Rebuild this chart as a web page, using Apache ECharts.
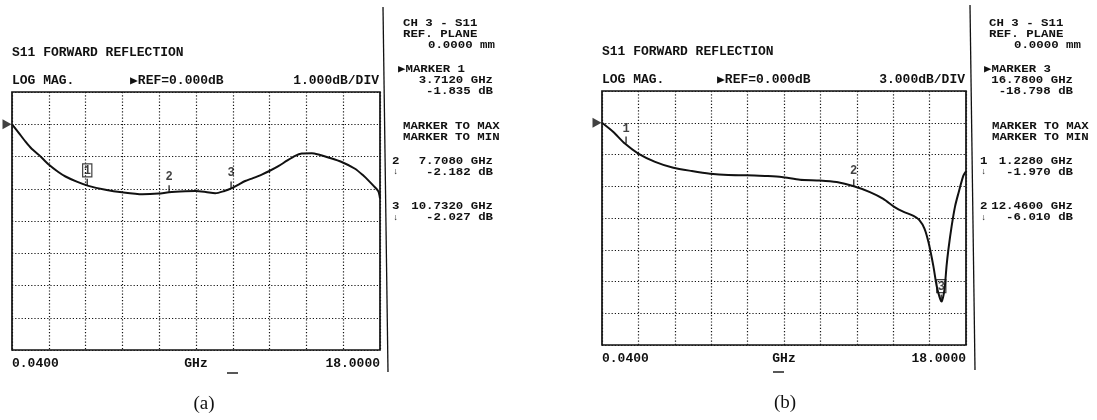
<!DOCTYPE html>
<html><head><meta charset="utf-8">
<script src="https://cdn.jsdelivr.net/npm/echarts@6/dist/echarts.min.js"></script>
<style>html,body{margin:0;padding:0;background:#fff}#c{width:1097px;height:420px}</style>
</head><body><div id="c"></div>
<script>
// ---- data ----
const startFreq = 0.04, stopFreq = 18;           // GHz
const xTickLabels = ['0.0400', '18.0000'];
const refLevel = 0;                               // dB
const dbPerDivA = 1, dbPerDivB = 3;

const freqA = [0.04, 0.35, 0.70, 1.0, 1.35, 1.83, 2.3, 2.65, 3.2, 3.77, 4.6, 5.41, 6.4, 7.19, 7.7, 8.5, 9.0, 9.5, 9.96, 10.4, 10.77, 11.1, 11.42, 11.8, 12.23, 12.6, 13.04, 13.46, 13.86, 14.18, 14.67, 15.0, 15.48, 16.13, 16.78, 17.2, 17.43, 17.7, 17.92, 18.0];
const dbA   = [0, -0.25, -0.54, -0.76, -0.95, -1.25, -1.48, -1.62, -1.78, -1.91, -2.03, -2.11, -2.17, -2.15, -2.11, -2.08, -2.07, -2.1, -2.14, -2.07, -1.98, -1.87, -1.76, -1.67, -1.56, -1.45, -1.30, -1.13, -0.98, -0.91, -0.90, -0.94, -1.03, -1.17, -1.38, -1.6, -1.74, -1.92, -2.08, -2.3];

const freqB = [0.04, 0.60, 1.17, 1.83, 2.66, 3.56, 4.47, 5.37, 6.27, 7.18, 8.08, 8.9, 9.81, 10.8, 11.62, 12.47, 13.26, 13.92, 14.5, 14.9, 15.41, 15.7, 15.95, 16.15, 16.39, 16.55, 16.7, 16.8, 16.9, 16.96, 17.04, 17.13, 17.29, 17.46, 17.62, 17.87, 18.0];
const dbB   = [0, -0.87, -1.97, -2.91, -3.69, -4.25, -4.56, -4.81, -4.94, -4.96, -5.03, -5.12, -5.38, -5.45, -5.6, -6.0, -6.55, -7.19, -8.0, -8.4, -8.8, -9.2, -10.0, -11.3, -13.55, -15.4, -16.5, -16.9, -16.2, -15.4, -13.55, -12.0, -9.8, -7.9, -6.7, -5.0, -4.6];

const markerFreqA = [3.712, 7.708, 10.732];
const markerDbA   = [-1.91, -2.11, -1.99];
const markerNamesA = ['1', '2', '3'];
const activeMarkerA = 0;
const markerFreqB = [1.228, 12.46, 16.78];
const markerDbB   = [-1.97, -6.0, -16.9];
const markerNamesB = ['1', '2', '3'];
const activeMarkerB = 2;

// marker read-outs printed on the instrument
const readFreqA = [3.712, 7.708, 10.732];
const readDbA   = [-1.835, -2.182, -2.027];
const readFreqB = [1.228, 12.46, 16.78];
const readDbB   = [-1.970, -6.010, -18.798];

// ---- chart ----
const INK = '#111';
const MONO = '"Liberation Mono", "DejaVu Sans Mono", monospace';
const FONT = 'bold 13px ' + MONO;
const FONT_R = 'bold 12.4px ' + MONO;
const SMALL = 'bold 9px ' + MONO;

function txt(x, y, s, align, font, sy) {
  return { type: 'text', x: x, y: y, silent: true, scaleY: sy || 1,
    style: { text: s, font: font || FONT, fill: INK,
      align: align || 'left', verticalAlign: 'middle',
      textAlign: align || 'left', textVerticalAlign: 'middle' } };
}
function rt(x, y, s, align, font) { return txt(x, y, s, align, font || FONT_R, 0.88); }
function ln(x1, y1, x2, y2, w) {
  return { type: 'line', silent: true, shape: { x1, y1, x2, y2 },
    style: { stroke: INK, lineWidth: w || 1.2 } };
}
const fF = v => v.toFixed(4) + ' GHz';
const fD = v => v.toFixed(3) + ' dB';

function panelTexts(o) {
  const g = [];
  g.push(txt(o.L, o.titleY, 'S11 FORWARD REFLECTION', 'left', FONT, 0.92));
  g.push(txt(o.L, o.hdrY, 'LOG MAG.', 'left', FONT, 0.92));
  g.push(txt(o.refX, o.hdrY, '\u25B6REF=' + refLevel.toFixed(3) + 'dB', 'left', FONT, 0.92));
  g.push(txt(o.R, o.hdrY, o.per.toFixed(3) + 'dB/DIV', 'right', FONT, 0.92));
  g.push(rt(o.bx, 23.5, 'CH 3 - S11'));
  g.push(rt(o.bx, 34, 'REF. PLANE'));
  g.push(rt(o.bx + 25, 45.5, '0.0000 mm'));
  g.push(rt(o.bx - 5, 69, '\u25B6MARKER ' + o.names[o.act]));
  g.push(rt(o.rx, 80.5, fF(o.rf[o.act]), 'right'));
  g.push(rt(o.rx, 91, fD(o.rd[o.act]), 'right'));
  g.push(rt(o.bx + o.mx, 126.5, 'MARKER TO MAX'));
  g.push(rt(o.bx + o.mx, 137, 'MARKER TO MIN'));
  const ys = [161, 206.5];
  o.others.forEach((k, j) => {
    g.push(rt(o.nx, ys[j], o.names[k]));
    g.push(rt(o.rx, ys[j], fF(o.rf[k]), 'right'));
    g.push(txt(o.nx + 1, ys[j] + 11, '\u2193', 'left', SMALL));
    g.push(rt(o.rx, ys[j] + 11, fD(o.rd[k]), 'right'));
  });
  g.push(ln(o.sep[0], o.sep[1], o.sep[2], o.sep[3], 1.3));
  g.push(ln(o.dash[0], o.dash[1], o.dash[0] + 11, o.dash[1], 1.4));
  g.push({ type: 'text', x: o.cap[0], y: o.cap[1], silent: true,
    style: { text: o.capText, font: '19px "Liberation Serif", serif', fill: INK,
      align: 'center', verticalAlign: 'middle', textAlign: 'center', textVerticalAlign: 'middle' } });
  return g;
}

const graphics = [].concat(
  panelTexts({ L: 12, R: 379, titleY: 53, hdrY: 81, refX: 130, per: dbPerDivA,
    bx: 403, mx: 0, rx: 493, nx: 392, names: markerNamesA, act: activeMarkerA, others: [1, 2],
    rf: readFreqA, rd: readDbA, sep: [383, 7, 388, 372], dash: [227, 373],
    cap: [204, 404], capText: '(a)' }),
  panelTexts({ L: 602, R: 965, titleY: 52, hdrY: 80, refX: 717, per: dbPerDivB,
    bx: 989, mx: 3, rx: 1073, nx: 980, names: markerNamesB, act: activeMarkerB, others: [0, 1],
    rf: readFreqB, rd: readDbB, sep: [970, 5, 975, 370], dash: [773, 372],
    cap: [785, 403], capText: '(b)' })
);

const DOT = { color: '#151515', width: 1.2, type: [1.2, 2] };
function grid(left, top, width, height) {
  return { left, top, width, height, show: true, borderColor: INK, borderWidth: 1.7,
    backgroundColor: 'transparent', containLabel: false };
}
function dataX(gi) {
  return { type: 'value', gridIndex: gi, min: startFreq, max: stopFreq, position: 'bottom',
    axisLine: { show: false }, axisTick: { show: false }, splitLine: { show: false },
    name: 'GHz', nameLocation: 'middle', nameGap: 7, nameMoveOverlap: false,
    nameTextStyle: { color: INK, fontFamily: MONO, fontWeight: 'bold', fontSize: 13, verticalAlign: 'top', padding: 0 },
    axisLabel: { show: true, margin: 7, color: INK, fontFamily: MONO, fontWeight: 'bold', fontSize: 13,
      showMinLabel: true, showMaxLabel: true, alignMinLabel: 'left', alignMaxLabel: 'right',
      formatter: v => Math.abs(v - startFreq) < 1e-9 ? xTickLabels[0] : (Math.abs(v - stopFreq) < 1e-9 ? xTickLabels[1] : '') } };
}
function divX(gi) {
  return { type: 'value', gridIndex: gi, min: 0, max: 10, interval: 1, position: 'top',
    axisLine: { show: false }, axisTick: { show: false }, axisLabel: { show: false },
    splitLine: { show: true, lineStyle: DOT } };
}
function yAx(gi, per) {
  return { type: 'value', gridIndex: gi, min: refLevel - 7 * per, max: refLevel + per, interval: per,
    axisLine: { show: false }, axisTick: { show: false }, axisLabel: { show: false },
    splitLine: { show: true, lineStyle: DOT } };
}
function curve(gi, fs, ds) {
  return { type: 'line', xAxisIndex: gi * 2, yAxisIndex: gi, data: fs.map((f, i) => [f, ds[i]]),
    showSymbol: false, smooth: 0.25, lineStyle: { color: INK, width: 2 }, z: 3, silent: true };
}
function refMark(gi) {
  return { type: 'scatter', xAxisIndex: gi * 2, yAxisIndex: gi, data: [[startFreq, refLevel]], clip: false,
    symbol: 'triangle', symbolRotate: -90, symbolSize: [10, 9], symbolOffset: [-5, 0],
    itemStyle: { color: INK }, silent: true, z: 4 };
}
function markers(gi, fs, ds, names, act) {
  return { type: 'scatter', xAxisIndex: gi * 2, yAxisIndex: gi, clip: false, silent: true, z: 5,
    symbol: 'rect', symbolSize: [1.5, 7], symbolOffset: [0, -3.5], itemStyle: { color: INK },
    label: { show: true, position: 'top', distance: 2, color: INK, fontFamily: MONO, fontWeight: 'bold', fontSize: 12 },
    data: fs.map((f, i) => ({ value: [f, ds[i]],
      label: i === act ? { formatter: names[i], borderColor: INK, borderWidth: 1.2, padding: [1, 1, 0, 1] } : { formatter: names[i] } })) };
}

const chart = echarts.init(document.getElementById('c'), null, { renderer: 'canvas' });
chart.setOption({
  animation: false,
  backgroundColor: '#fff',
  grid: [grid(12, 92, 368, 258), grid(602, 91, 364, 254)],
  xAxis: [dataX(0), divX(0), dataX(1), divX(1)],
  yAxis: [yAx(0, dbPerDivA), yAx(1, dbPerDivB)],
  series: [
    curve(0, freqA, dbA), refMark(0), markers(0, markerFreqA, markerDbA, markerNamesA, activeMarkerA),
    curve(1, freqB, dbB), refMark(1), markers(1, markerFreqB, markerDbB, markerNamesB, activeMarkerB)
  ],
  graphic: graphics
});
</script></body></html>
